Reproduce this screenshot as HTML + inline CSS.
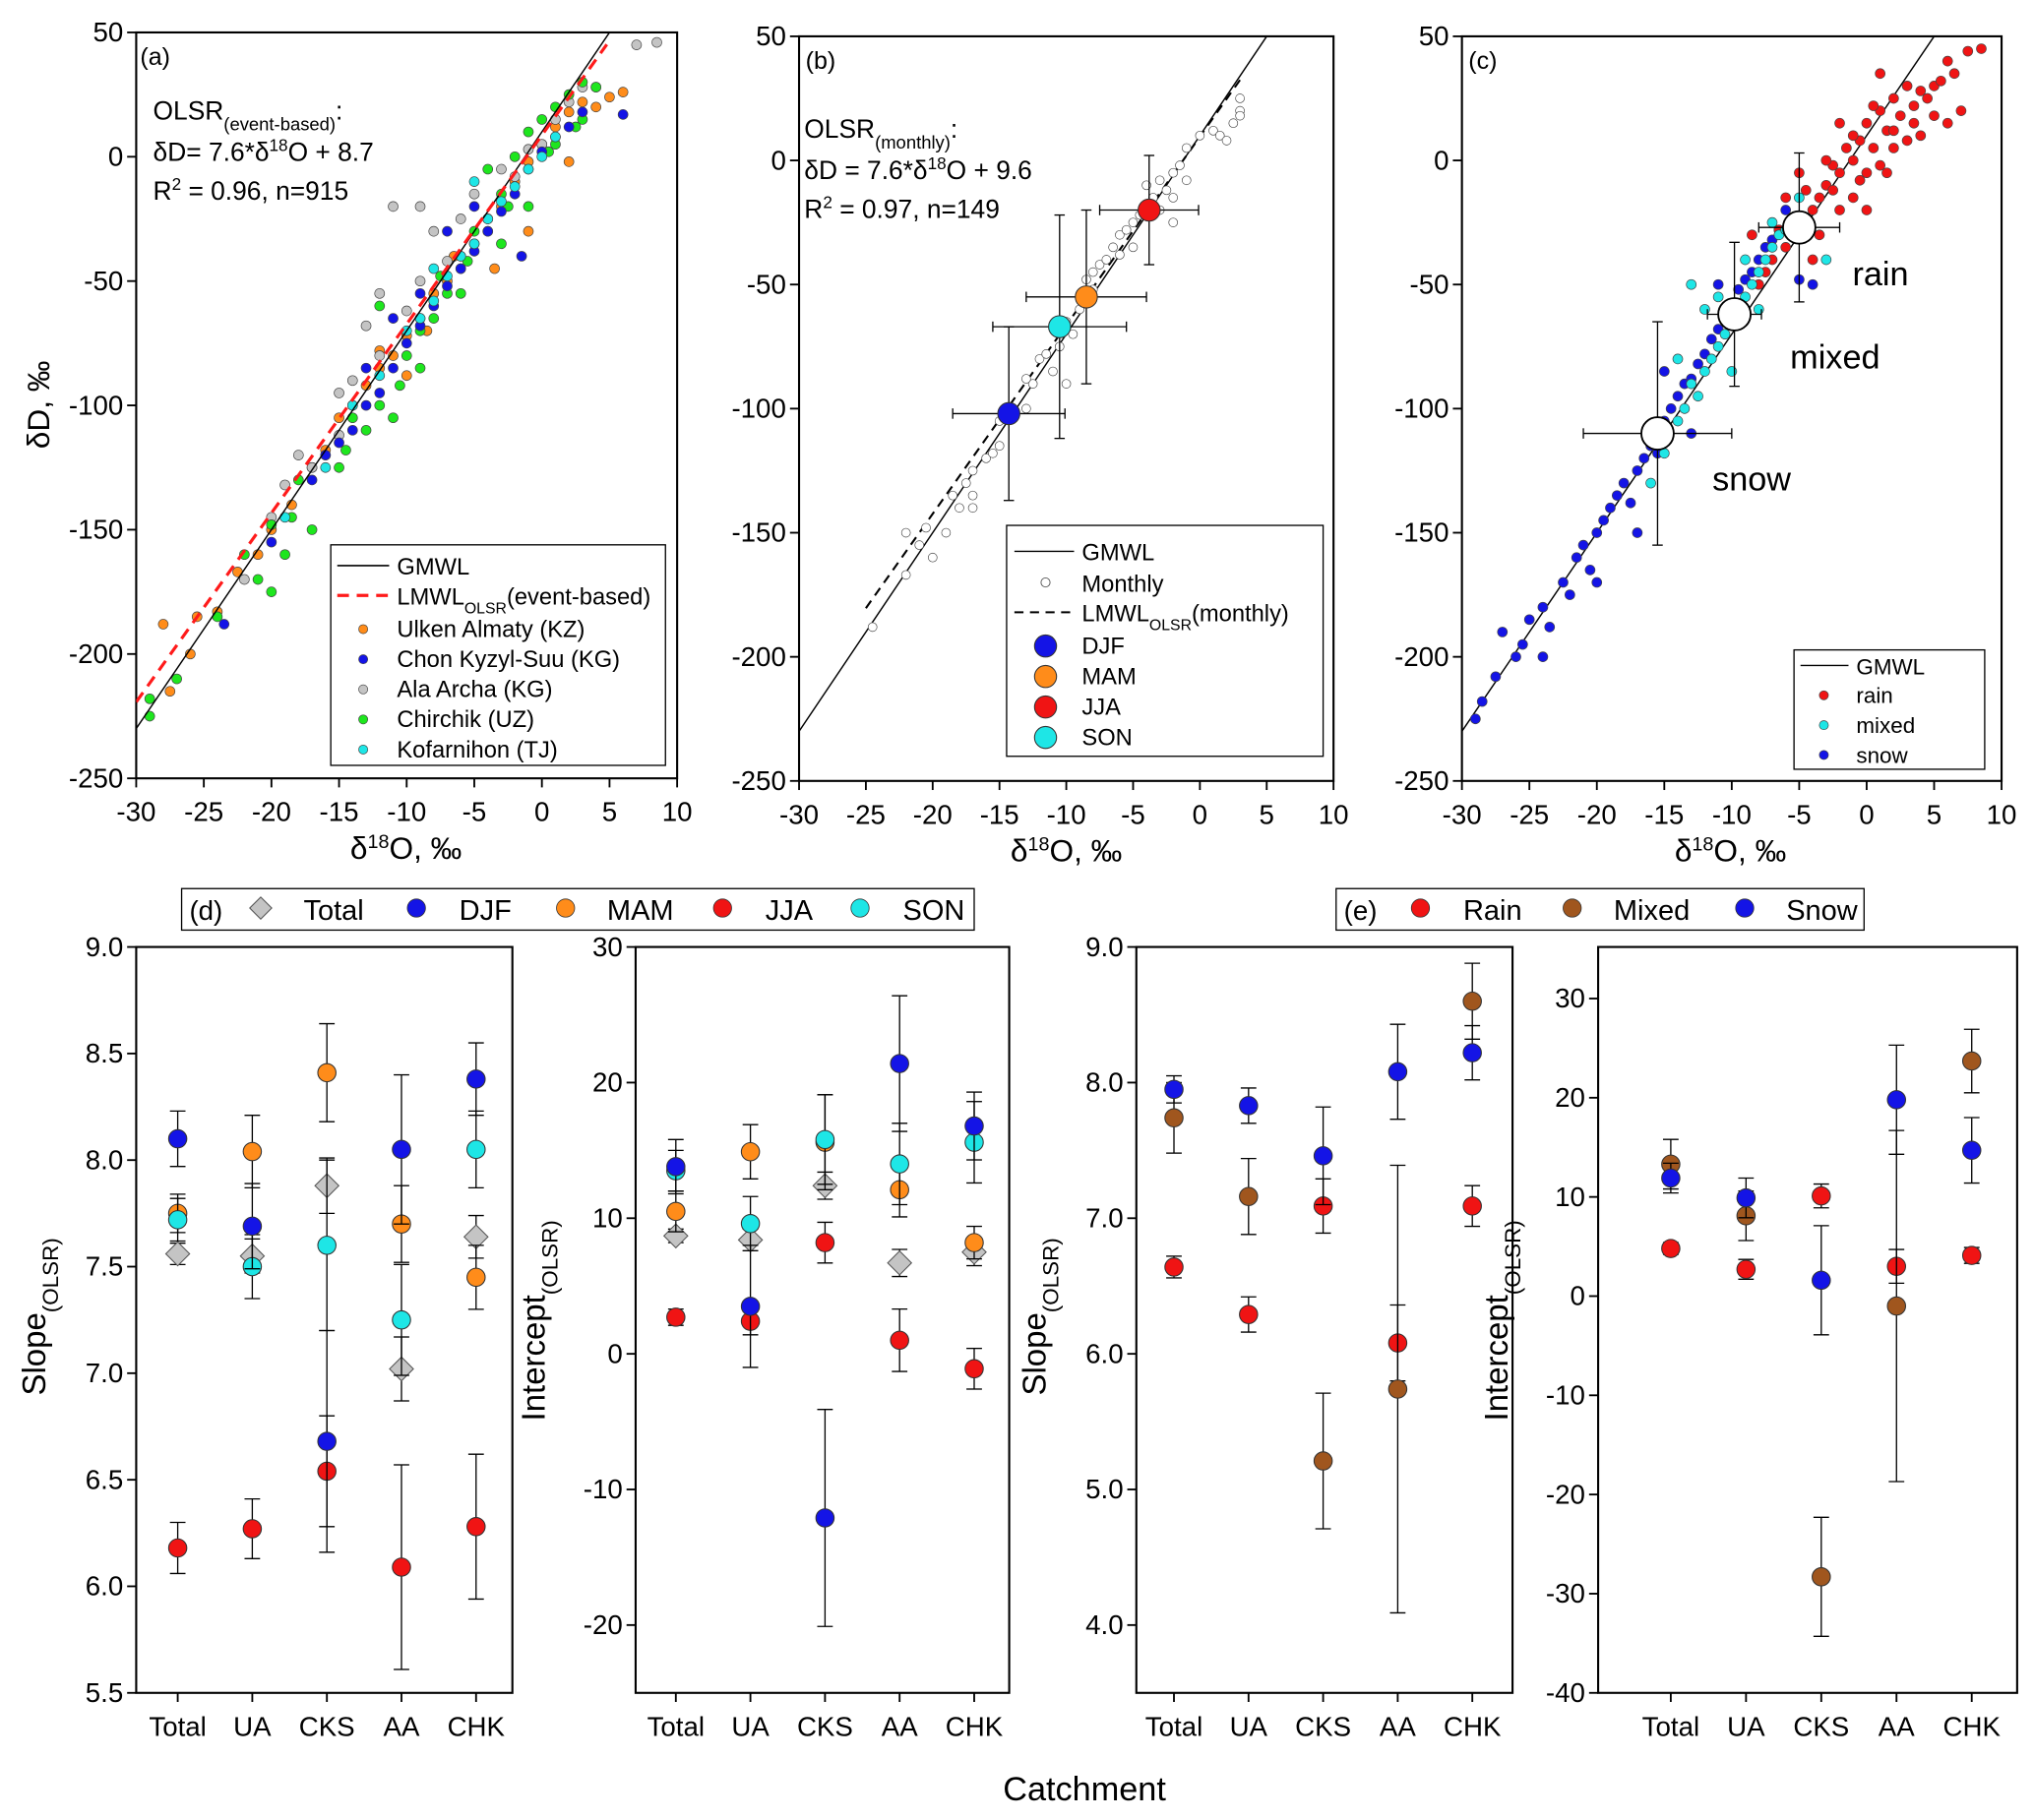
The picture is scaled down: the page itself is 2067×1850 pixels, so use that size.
<!DOCTYPE html>
<html><head><meta charset="utf-8">
<style>
html,body{margin:0;padding:0;background:#fff;}
svg{display:block;font-family:"Liberation Sans",Arial,sans-serif;}
</style></head>
<body>
<svg id="fig" xmlns="http://www.w3.org/2000/svg" width="2067" height="1850" viewBox="0 0 1568 1403" preserveAspectRatio="none"></svg>
<script>
// ---------- data ----------
const ukPts=[[-28,-188],[-27.5,-215],[-26,-200],[-25.5,-185],[-24,-183],[-22.5,-167],[-21,-160],[-20,-150],[-18.5,-140],[-17,-125],[-16,-118],[-15,-105],[-14,-100],[-13,-92],[-12,-85],[-11,-80],[-10,-72],[-9,-65],[-8,-55],[-7,-50],[-6,-45],[-5,-35],[-4,-25],[-3,-20],[-2,-10],[-1,-2],[0,5],[1,12],[2,18],[3,22],[4,20],[5,24],[6,26],[-8.5,-70],[-6.5,-40],[-3.5,-45],[-1,-30],[2,-2],[-12,-78],[-10,-88]];
const ckPts=[[-23.5,-188],[-20,-155],[-17,-130],[-15,-115],[-14,-110],[-13,-100],[-12,-95],[-11,-85],[-10,-75],[-9,-68],[-8,-60],[-7,-52],[-6,-45],[-5,-38],[-4,-30],[-3,-22],[-2,-15],[-1,-5],[0,2],[1,8],[2,12],[3,18],[6,17],[-5,-20],[-9,-55],[-13,-85],[-16,-120],[-1.5,-40],[-11,-65],[-7,-30]];
const aaPts=[[-22,-170],[-19,-132],[-17,-125],[-15,-112],[-12,-80],[-10,-62],[-9,-50],[-8,-30],[-7,-42],[-6,-25],[-5,-15],[-4,-30],[-3,-5],[-2,-8],[-1,3],[0,5],[1,15],[2,22],[3,28],[4,28],[7,45],[8.5,46],[-11,-20],[-12,-55],[-13,-68],[-14,-90],[-18,-120],[-20,-145],[-15,-95],[-9,-20]];
const chPts=[[-29,-225],[-29,-218],[-27,-210],[-24,-185],[-22,-160],[-21,-170],[-20,-148],[-19,-160],[-18,-130],[-17,-150],[-16,-120],[-15,-125],[-14,-105],[-13,-110],[-12,-100],[-11,-105],[-10,-80],[-9,-70],[-8,-65],[-7,-55],[-6,-40],[-5,-30],[-4,-25],[-3,-15],[-2,0],[-1,10],[0,15],[1,20],[2,25],[3,30],[4,28],[3,15],[1,5],[-3,-35],[-6,-55],[-9,-85],[-12,-60],[-20,-175],[-4,-5],[-1,-20],[-7.5,-48],[-5.5,-42],[-2.5,-20],[0.5,2],[2.5,12],[-10.5,-92],[-14.5,-118],[-18.5,-145]];
const kfPts=[[-19,-145],[-16,-125],[-14,-100],[-12,-88],[-10,-70],[-9,-65],[-8,-58],[-7,-48],[-6,-40],[-5,-35],[-4,-25],[-3,-18],[-2,-12],[-1,-5],[0,0],[1,8],[-5,-10],[-8,-45]];
const monthlyPts=[[-24.5,-188],[-22,-167],[-22,-150],[-21,-155],[-20.5,-148],[-20,-160],[-19,-150],[-18.5,-135],[-18,-140],[-17.5,-130],[-17,-125],[-17,-140],[-17,-135],[-16,-120],[-15.5,-118],[-15,-115],[-15,-105],[-14,-100],[-13,-100],[-12.5,-90],[-13,-88],[-12,-80],[-11.5,-78],[-11,-85],[-10,-90],[-10.5,-75],[-10,-65],[-9.5,-70],[-9,-60],[-8.5,-48],[-8,-45],[-8,-52],[-7.5,-42],[-7,-40],[-6.5,-35],[-6,-38],[-6,-30],[-5.5,-28],[-5,-25],[-5,-35],[-4.5,-22],[-4,-18],[-4,-10],[-3.5,-15],[-3,-8],[-3,-20],[-2.5,-12],[-2,-5],[-2,-15],[-1.5,-2],[-1,-8],[-1,5],[0,10],[1,12],[1.5,10],[2,8],[2.5,15],[3,20],[3,25],[3,18],[-2,-25]];
const seasonNames=["DJF","MAM","JJA","SON"];
const seasonX=[-14.3,-8.5,-3.8,-10.5];
const seasonY=[-102,-55,-20,-67];
const seasonXErr=[4.2,4.5,3.7,5];
const seasonYErr=[35,35,22,45];
const rainPts=[[8.5,45],[7.5,44],[6,40],[6.5,35],[5,30],[4,28],[3,30],[3.5,22],[2,25],[2.5,18],[1,20],[1.5,12],[0,15],[0.5,5],[-0.5,8],[-1,0],[-1.5,5],[-2,-5],[-2.5,-2],[-3,-10],[-3.5,-15],[-4,-20],[-4.5,-12],[-5,-25],[-5.5,-30],[-6,-35],[-6.5,-28],[-7,-40],[-7.5,-45],[-8,-50],[-2,-20],[0,-5],[2,5],[4,10],[-1,-15],[1,-2],[3,8],[5,18],[-3,0],[-6,-15],[-8.5,-30],[-4,-40],[0,-20],[-5,-5],[-9,-60],[7,20],[6,15],[-2,15],[1,35],[-3.5,-30],[-1,10],[0.5,22],[2,12],[3.5,15],[4.5,25],[-2.5,-12],[-4.5,-25],[-0.5,-8],[1.5,-5],[5.5,32]];
const mixedPts=[[-16,-130],[-15,-118],[-14,-105],[-13.5,-100],[-13,-90],[-12.5,-95],[-12,-85],[-11.5,-80],[-11,-75],[-10.5,-70],[-10,-65],[-9.5,-60],[-9,-55],[-8.5,-50],[-8,-45],[-7.5,-40],[-7,-35],[-6.5,-30],[-6,-28],[-5.5,-25],[-11,-55],[-12,-60],[-13,-50],[-9,-40],[-7,-25],[-14,-80],[-3,-40],[-10,-85],[-8,-60],[-5,-15]];
const snowPts=[[-29,-225],[-28.5,-218],[-27.5,-208],[-27,-190],[-26,-200],[-25.5,-195],[-25,-185],[-24,-180],[-23.5,-188],[-22.5,-170],[-22,-175],[-21.5,-160],[-21,-155],[-20.5,-165],[-20,-150],[-19.5,-145],[-19,-140],[-18.5,-135],[-18,-130],[-17.5,-138],[-17,-125],[-16.5,-120],[-16,-115],[-15.5,-118],[-15,-105],[-14.5,-100],[-14,-95],[-13.5,-90],[-13,-88],[-12.5,-82],[-12,-78],[-11.5,-72],[-11,-68],[-10.5,-62],[-10,-58],[-9.5,-52],[-9,-48],[-8.5,-45],[-8,-40],[-7.5,-35],[-7,-32],[-6.5,-28],[-6,-20],[-13,-110],[-17,-150],[-20,-170],[-24,-200],[-15,-85],[-11,-50],[-5,-48],[-4,-50]];
const typeNames=["rain","mixed","snow"];
const typeX=[-5,-9.8,-15.5];
const typeY=[-27,-62,-110];
const typeXErr=[3,2,5.5];
const typeYErr=[30,29,45];
const catchments=["Total","UA","CKS","AA","CHK"];
// panel d: slope by season
const dSlopeTotal=[7.56,7.55,7.88,7.02,7.64], dSlopeTotalE=[0.05,0.08,0.13,0.15,0.1];
const dSlopeDJF=[8.10,7.69,6.68,8.05,8.38], dSlopeDJFE=[0.13,0.2,0.52,0.35,0.17];
const dSlopeMAM=[7.75,8.04,8.41,7.70,7.45], dSlopeMAME=[0.09,0.17,0.23,0.18,0.15];
const dSlopeJJA=[6.18,6.27,6.54,6.09,6.28], dSlopeJJAE=[0.12,0.14,0.26,0.48,0.34];
const dSlopeSON=[7.72,7.50,7.60,7.25,8.05], dSlopeSONE=[0.1,0.15,0.4,0.26,0.18];
// panel d: intercept
const dIntTotal=[8.7,8.4,12.4,6.7,7.5], dIntTotalE=[0.5,0.8,1,1,1];
const dIntDJF=[13.8,3.5,-12.1,21.4,16.8], dIntDJFE=[2,4.5,8,5,2.5];
const dIntMAM=[10.5,14.9,15.6,12.1,8.2], dIntMAME=[1.5,2,3.5,2,1.2];
const dIntJJA=[2.7,2.4,8.2,1.0,-1.1], dIntJJAE=[0.6,1,1.5,2.3,1.5];
const dIntSON=[13.5,9.6,15.8,14.0,15.6], dIntSONE=[1.5,2,3.3,3,3];
// panel e: slope
const eSlopeRain=[6.64,6.29,7.09,6.08,7.09], eSlopeRainE=[0.08,0.13,0.2,0.28,0.15];
const eSlopeMixed=[7.74,7.16,5.21,5.74,8.60], eSlopeMixedE=[0.26,0.28,0.5,1.65,0.28];
const eSlopeSnow=[7.95,7.83,7.46,8.08,8.22], eSlopeSnowE=[0.1,0.13,0.36,0.35,0.2];
// panel e: intercept
const eIntRain=[4.8,2.7,10.1,3.0,4.1], eIntRainE=[0.6,1,1.2,1.7,0.8];
const eIntMixed=[13.3,8.1,-28.3,-1.0,23.7], eIntMixedE=[2.5,2.5,6,17.7,3.2];
const eIntSnow=[11.9,9.9,1.6,19.8,14.7], eIntSnowE=[1.5,2,5.5,5.5,3.3];

const C={blue:"#1414e6",orange:"#ff8c1a",red:"#f01414",cyan:"#1ee6e6",gray:"#c4c4c4",green:"#1ee61e",brown:"#a0561e"};
const NS="http://www.w3.org/2000/svg";
const svg=document.getElementById("fig");
function mk(tag,attrs,parent){const e=document.createElementNS(NS,tag);for(const k in attrs)e.setAttribute(k,attrs[k]);(parent||svg).appendChild(e);return e;}
function txt(x,y,s,size,anchor,parent){const t=mk("text",{x:x,y:y,"font-size":size,"text-anchor":anchor||"start",fill:"#000"},parent);t.textContent=s;return t;}
function lin(a,b,c,d){return v=>c+(v-a)*(d-c)/(b-a);}

function axes(g,x0,x1,y0,y1,xs,ys,xt,yt,yfmt,xlabelsCat){
  mk("rect",{x:x0,y:y0,width:x1-x0,height:y1-y0,fill:"none",stroke:"#000","stroke-width":1.6},g);
  yt.forEach(v=>{const y=ys(v);mk("line",{x1:x0-7,x2:x0,y1:y,y2:y,stroke:"#000","stroke-width":1.4},g);
    const t=txt(x0-10,y+7,yfmt?yfmt(v):String(v),21,"end",g);});
  xt.forEach((v,i)=>{const x=xs(v);mk("line",{x1:x,x2:x,y1:y1,y2:y1+7,stroke:"#000","stroke-width":1.4},g);
    const t=txt(x,y1+33,xlabelsCat?xlabelsCat[i]:String(v),21,"middle",g);});
}
function dot(g,x,y,r,fill,stroke,sw){return mk("circle",{cx:x,cy:y,r:r,fill:fill,stroke:stroke||"#333","stroke-width":sw||0.6},g);}
function scatter(g,pts,xs,ys,r,fill,name){const s=mk("g",{},g);
  pts.forEach(p=>dot(s,xs(p[0]),ys(p[1]),r,fill,"#444",0.5));}
function errbar(g,x,y1,y2,cap){mk("line",{x1:x,x2:x,y1:y1,y2:y2,stroke:"#000","stroke-width":1},g);
  mk("line",{x1:x-cap,x2:x+cap,y1:y1,y2:y1,stroke:"#000","stroke-width":1},g);mk("line",{x1:x-cap,x2:x+cap,y1:y2,y2:y2,stroke:"#000","stroke-width":1},g);}
function herr(g,y,x1,x2,cap){mk("line",{x1:x1,x2:x2,y1:y,y2:y,stroke:"#000","stroke-width":1},g);
  mk("line",{x1:x1,x2:x1,y1:y-cap,y2:y+cap,stroke:"#000","stroke-width":1},g);mk("line",{x1:x2,x2:x2,y1:y-cap,y2:y+cap,stroke:"#000","stroke-width":1},g);}
function lineFn(g,xs,ys,a,b,m,c,attrs){return mk("line",Object.assign({x1:xs(a),y1:ys(m*a+c),x2:xs(b),y2:ys(m*b+c),stroke:"#000","stroke-width":1.1},attrs||{}),g);}
function xTitle(g,x,y){const t=mk("text",{x:x,y:y,"font-size":24,"text-anchor":"middle"},g);
  t.innerHTML='δ<tspan baseline-shift="super" font-size="15">18</tspan>O, ‰';}
function clip(id,x0,y0,w,h){const d=mk("defs",{});const c=mk("clipPath",{id:id},d);mk("rect",{x:x0,y:y0,width:w,height:h},c);}
const xTicks=[-30,-25,-20,-15,-10,-5,0,5,10], yTicks=[50,0,-50,-100,-150,-200,-250];
const R=3.8;

// ---------- panel a ----------
(function(){
 const g=mk("g",{});
 const x0=105,x1=522,y0=25,y1=600;const xs=lin(-30,10,x0,x1),ys=lin(50,-250,y0,y1);
 clip("ca",x0,y0,x1-x0,y1-y0);
 axes(g,x0,x1,y0,y1,xs,ys,xTicks,yTicks);
 const yt=mk("text",{x:0,y:0,"font-size":24,"text-anchor":"middle",transform:"translate(38,312) rotate(-90)"},g);yt.textContent="δD, ‰";
 xTitle(g,313,662);
 const pg=mk("g",{"clip-path":"url(#ca)"},g);
 scatter(pg,ukPts,xs,ys,R,C.orange,"ulken-almaty-points");
 scatter(pg,aaPts,xs,ys,R,C.gray,"ala-archa-points");
 scatter(pg,chPts,xs,ys,R,C.green,"chirchik-points");
 scatter(pg,ckPts,xs,ys,R,C.blue,"chon-kyzyl-suu-points");
 scatter(pg,kfPts,xs,ys,R,C.cyan,"kofarnihon-points");
 const l1=lineFn(pg,xs,ys,-30,5,8,10);
 const l2=lineFn(pg,xs,ys,-30,4.8,7.6,8.7,{stroke:"#ff1a1a","stroke-width":2.4,"stroke-dasharray":"9,6"});
 txt(108,50,"(a)",19,"start",g);
 const t1=mk("text",{x:118,y:92,"font-size":20},g);t1.innerHTML='OLSR<tspan baseline-shift="sub" font-size="14">(event-based)</tspan>:';
 const t2=mk("text",{x:118,y:124,"font-size":20},g);t2.innerHTML='δD= 7.6*δ<tspan baseline-shift="super" font-size="13">18</tspan>O + 8.7';
 const t3=mk("text",{x:118,y:154,"font-size":20},g);t3.innerHTML='R<tspan baseline-shift="super" font-size="13">2</tspan> = 0.96, n=915';
 const lg=mk("g",{},g);
 mk("rect",{x:255,y:420,width:258,height:170,fill:"#fff",stroke:"#000","stroke-width":1},lg);
 mk("line",{x1:260,x2:300,y1:436,y2:436,stroke:"#000","stroke-width":1.2},lg);txt(306,443,"GMWL",18,"start",lg);
 mk("line",{x1:260,x2:300,y1:459,y2:459,stroke:"#ff1a1a","stroke-width":2.4,"stroke-dasharray":"9,6"},lg);
 const lt=mk("text",{x:306,y:466,"font-size":18},lg);lt.innerHTML='LMWL<tspan baseline-shift="sub" font-size="12">OLSR</tspan>(event-based)';
 [["Ulken Almaty (KZ)",C.orange],["Chon Kyzyl-Suu (KG)",C.blue],["Ala Archa (KG)",C.gray],["Chirchik (UZ)",C.green],["Kofarnihon (TJ)",C.cyan]].forEach((e,i)=>{
   const y=485+i*23.2;dot(lg,280,y,3.5,e[1],"#444",0.5);txt(306,y+6,e[0],18,"start",lg);});
})();

// ---------- panel b ----------
(function(){
 const g=mk("g",{});
 const x0=616,x1=1028,y0=28,y1=602;const xs=lin(-30,10,x0,x1),ys=lin(50,-250,y0,y1);
 clip("cb",x0,y0,x1-x0,y1-y0);
 axes(g,x0,x1,y0,y1,xs,ys,xTicks,yTicks);
 xTitle(g,822,664);
 const pg=mk("g",{"clip-path":"url(#cb)"},g);
 const l1=lineFn(pg,xs,ys,-30,5,8,10);
 const l2=lineFn(pg,xs,ys,-25,3,7.6,9.6,{"stroke-width":1.6,"stroke-dasharray":"7,5"});
 scatter(pg,monthlyPts,xs,ys,3.4,"#fff","monthly-points");
 const cols=[C.blue,C.orange,C.red,C.cyan];
 seasonNames.forEach((n,i)=>{const x=xs(seasonX[i]),y=ys(seasonY[i]);
   errbar(pg,x,ys(seasonY[i]+seasonYErr[i]),ys(seasonY[i]-seasonYErr[i]),4);
   herr(pg,y,xs(seasonX[i]-seasonXErr[i]),xs(seasonX[i]+seasonXErr[i]),4);
   const c=dot(pg,x,y,8.5,cols[i],"#333",0.8);});
 txt(621,53,"(b)",19,"start",g);
 const t1=mk("text",{x:620,y:106,"font-size":20},g);t1.innerHTML='OLSR<tspan baseline-shift="sub" font-size="14">(monthly)</tspan>:';
 const t2=mk("text",{x:620,y:138,"font-size":20},g);t2.innerHTML='δD = 7.6*δ<tspan baseline-shift="super" font-size="13">18</tspan>O + 9.6';
 const t3=mk("text",{x:620,y:168,"font-size":20},g);t3.innerHTML='R<tspan baseline-shift="super" font-size="13">2</tspan> = 0.97, n=149';
 const lg=mk("g",{},g);
 mk("rect",{x:776,y:405,width:244,height:178,fill:"#fff",stroke:"#000","stroke-width":1},lg);
 mk("line",{x1:782,x2:828,y1:425,y2:425,stroke:"#000","stroke-width":1},lg);txt(834,432,"GMWL",18,"start",lg);
 dot(lg,806,449,3.5,"#fff","#555",0.7);txt(834,456,"Monthly",18,"start",lg);
 mk("line",{x1:782,x2:828,y1:472,y2:472,stroke:"#000","stroke-width":1.6,"stroke-dasharray":"7,5"},lg);
 const lt=mk("text",{x:834,y:479,"font-size":18},lg);lt.innerHTML='LMWL<tspan baseline-shift="sub" font-size="12">OLSR</tspan>(monthly)';
 ["DJF","MAM","JJA","SON"].forEach((n,i)=>{const y=498+i*23.5;dot(lg,806,y,8.5,[C.blue,C.orange,C.red,C.cyan][i],"#333",0.8);txt(834,y+6,n,18,"start",lg);});
})();

// ---------- panel c ----------
(function(){
 const g=mk("g",{});
 const x0=1127,x1=1543,y0=28,y1=602;const xs=lin(-30,10,x0,x1),ys=lin(50,-250,y0,y1);
 clip("cc",x0,y0,x1-x0,y1-y0);
 axes(g,x0,x1,y0,y1,xs,ys,xTicks,yTicks);
 xTitle(g,1334,664);
 const pg=mk("g",{"clip-path":"url(#cc)"},g);
 const l1=lineFn(pg,xs,ys,-30,5,8,10);
 scatter(pg,snowPts,xs,ys,R,C.blue,"snow-points");
 scatter(pg,rainPts,xs,ys,R,C.red,"rain-points");
 scatter(pg,mixedPts,xs,ys,R,C.cyan,"mixed-points");
 typeNames.forEach((n,i)=>{const x=xs(typeX[i]),y=ys(typeY[i]);
   errbar(pg,x,ys(typeY[i]+typeYErr[i]),ys(typeY[i]-typeYErr[i]),4);
   herr(pg,y,xs(typeX[i]-typeXErr[i]),xs(typeX[i]+typeXErr[i]),4);
   const c=dot(pg,x,y,12.5,"#fff","#000",1.4);});
 txt(1132,53,"(c)",19,"start",g);
 txt(1428,220,"rain",26,"start",g);txt(1380,284,"mixed",26,"start",g);txt(1320,378,"snow",26,"start",g);
 const lg=mk("g",{},g);
 mk("rect",{x:1383,y:501,width:147,height:92,fill:"#fff",stroke:"#000","stroke-width":1},lg);
 mk("line",{x1:1388,x2:1425,y1:513,y2:513,stroke:"#000","stroke-width":1},lg);txt(1431,520,"GMWL",17,"start",lg);
 [["rain",C.red],["mixed",C.cyan],["snow",C.blue]].forEach((e,i)=>{const y=536+i*23;dot(lg,1406,y,3.5,e[1],"#444",0.5);txt(1431,y+6,e[0],17,"start",lg);});
})();

// ---------- bottom panels ----------
function catPanel(name,x0,x1,first,step,ymin,ymax,yt,yfmt,series,title,titleY){
 const g=mk("g",{});
 const y0=730,y1=1305;const xs=i=>first+step*i;const ys=lin(ymax,ymin,y0,y1);
 axes(g,x0,x1,y0,y1,xs,ys,[0,1,2,3,4],yt,yfmt,catchments);
 series.forEach(s=>{const sg=mk("g",{},g);
   s.v.forEach((v,i)=>{const x=xs(i);errbar(sg,x,ys(v+s.e[i]),ys(v-s.e[i]),6);
     if(s.diamond){mk("rect",{x:x-6.5,y:ys(v)-6.5,width:13,height:13,fill:s.c,stroke:"#555","stroke-width":0.8,transform:"rotate(45 "+x+" "+ys(v)+")"},sg);}
     else dot(sg,x,ys(v),7,s.c,"#333",0.8);});});
 const t=mk("text",{x:0,y:0,"font-size":25,"text-anchor":"middle",transform:"translate("+(x0-70)+","+titleY+") rotate(-90)"},g);
 t.innerHTML=title+'<tspan baseline-shift="sub" font-size="17">(OLSR)</tspan>';
}
const f1=v=>v.toFixed(1);
catPanel("panel-d-slope",105,395,137,57.5,5.5,9.0,[9.0,8.5,8.0,7.5,7.0,6.5,6.0,5.5],f1,[
 {name:"series-jja",v:dSlopeJJA,e:dSlopeJJAE,c:C.red},{name:"series-total",v:dSlopeTotal,e:dSlopeTotalE,c:C.gray,diamond:true},
 {name:"series-mam",v:dSlopeMAM,e:dSlopeMAME,c:C.orange},{name:"series-son",v:dSlopeSON,e:dSlopeSONE,c:C.cyan},{name:"series-djf",v:dSlopeDJF,e:dSlopeDJFE,c:C.blue}],"Slope",1015);
catPanel("panel-d-intercept",490,778,521,57.5,-25,30,[30,20,10,0,-10,-20],null,[
 {name:"series-jja",v:dIntJJA,e:dIntJJAE,c:C.red},{name:"series-total",v:dIntTotal,e:dIntTotalE,c:C.gray,diamond:true},
 {name:"series-mam",v:dIntMAM,e:dIntMAME,c:C.orange},{name:"series-son",v:dIntSON,e:dIntSONE,c:C.cyan},{name:"series-djf",v:dIntDJF,e:dIntDJFE,c:C.blue}],"Intercept",1018);
catPanel("panel-e-slope",876,1166,905,57.5,3.5,9.0,[9.0,8.0,7.0,6.0,5.0,4.0],f1,[
 {name:"series-rain",v:eSlopeRain,e:eSlopeRainE,c:C.red},{name:"series-mixed",v:eSlopeMixed,e:eSlopeMixedE,c:C.brown},{name:"series-snow",v:eSlopeSnow,e:eSlopeSnowE,c:C.blue}],"Slope",1015);
catPanel("panel-e-intercept",1232,1555,1288,58,-40,35.2,[30,20,10,0,-10,-20,-30,-40],null,[
 {name:"series-rain",v:eIntRain,e:eIntRainE,c:C.red},{name:"series-mixed",v:eIntMixed,e:eIntMixedE,c:C.brown},{name:"series-snow",v:eIntSnow,e:eIntSnowE,c:C.blue}],"Intercept",1018);

// legends bottom
(function(){
 const g=mk("g",{});
 mk("rect",{x:140,y:685,width:611,height:32,fill:"#fff",stroke:"#000","stroke-width":1},g);
 txt(146,709,"(d)",21,"start",g);
 mk("rect",{x:195,y:694,width:12,height:12,fill:C.gray,stroke:"#555","stroke-width":0.8,transform:"rotate(45 201 700)"},g);txt(234,709,"Total",22,"start",g);
 dot(g,321,700,7,C.blue);txt(354,709,"DJF",22,"start",g);
 dot(g,436,700,7,C.orange);txt(468,709,"MAM",22,"start",g);
 dot(g,557,700,7,C.red);txt(590,709,"JJA",22,"start",g);
 dot(g,663,700,7,C.cyan);txt(696,709,"SON",22,"start",g);
 const h=mk("g",{});
 mk("rect",{x:1030,y:685,width:407,height:32,fill:"#fff",stroke:"#000","stroke-width":1},h);
 txt(1036,709,"(e)",21,"start",h);
 dot(h,1095,700,7,C.red);txt(1128,709,"Rain",22,"start",h);
 dot(h,1212,700,7,C.brown);txt(1244,709,"Mixed",22,"start",h);
 dot(h,1345,700,7,C.blue);txt(1377,709,"Snow",22,"start",h);
 const c=txt(836,1388,"Catchment",26,"middle");
})();
</script>
</body></html>
